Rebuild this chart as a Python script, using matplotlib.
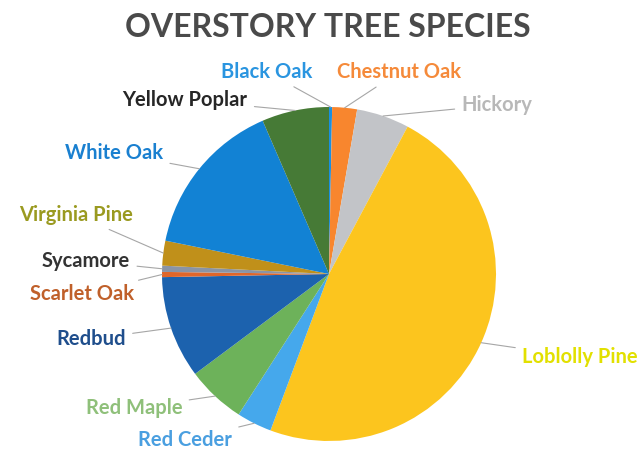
import numpy as np
import matplotlib.pyplot as plt

species = ["Black Oak", "Chestnut Oak", "Hickory", "Loblolly Pine", "Red Ceder",
           "Red Maple", "Redbud", "Scarlet Oak", "Sycamore", "Virginia Pine",
           "White Oak", "Yellow Poplar"]
share = [0.3, 2.4, 5.1, 47.9, 3.4, 5.7, 9.9, 0.5, 0.6, 2.4, 15.3, 6.5]

slice_colors = ["#1a8fe0", "#f8862e", "#c2c4c8", "#fcc51e", "#45a8ec", "#6db25a",
                "#1c62ae", "#e0662a", "#8a94a6", "#c0901a", "#1282d4", "#467a36"]
label_colors = ["#2a95e0", "#f58a3a", "#b8b8b8", "#e2e000", "#4a9fe0", "#8fc07a",
                "#1f4e8c", "#c0602a", "#333333", "#9a9a20", "#1a80d0", "#262626"]

# label centres in pixels (x, y from top)
label_px = [(267, 72), (399, 72), (497, 105), (580, 357), (185, 440),
            (134, 408), (91, 339), (82, 294), (86, 261), (76, 215),
            (114, 153), (185, 100)]

W, H = 642, 453
CX, CY, R = 329, 274, 167


def px2d(x, y):
    return (x - CX) / R, (CY - y) / R


fig = plt.figure(figsize=(W / 100, H / 100), dpi=100)
ax = fig.add_axes([0, 0, 1, 1])

wedges, _ = ax.pie(share, colors=slice_colors, startangle=90, counterclock=False,
                   radius=1.0, wedgeprops=dict(linewidth=0))

ax.set_xlim(-CX / R, (W - CX) / R)
ax.set_ylim(-(H - CY) / R, CY / R)
ax.set_aspect("auto")
ax.axis("off")

for w, name, col, (lx, ly) in zip(wedges, species, label_colors, label_px):
    mid = np.deg2rad((w.theta1 + w.theta2) / 2)
    anchor = (np.cos(mid), np.sin(mid))
    ax.annotate(name, xy=anchor, xytext=px2d(lx, ly), ha="center", va="center",
                fontsize=14.5, fontweight="bold", color=col, family="Lato",
                arrowprops=dict(arrowstyle="-", color="#a6a6a6", lw=0.8,
                                shrinkA=3, shrinkB=0))

fig.text(0.51, 0.94, "OVERSTORY TREE SPECIES", ha="center", va="center",
         fontsize=23, fontweight="bold", color="#4a4a4a", family="Lato")

fig.savefig("out.png", dpi=100)
